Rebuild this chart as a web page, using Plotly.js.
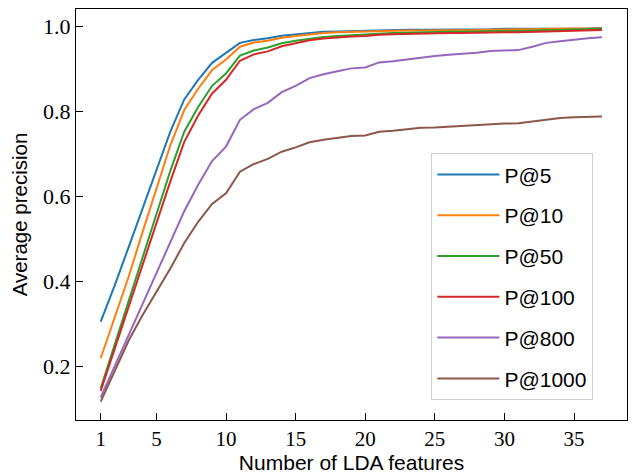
<!DOCTYPE html>
<html>
<head>
<meta charset="utf-8">
<script src="https://cdn.plot.ly/plotly-3.0.1.min.js"></script>
<style>html,body{margin:0;padding:0;background:#fff;}#chart{width:634px;height:474px;}</style>
</head>
<body>
<div id="chart"></div>
<script>
const features = [1,2,3,4,5,6,7,8,9,10,11,12,13,14,15,16,17,18,19,20,21,22,23,24,25,26,27,28,29,30,31,32,33,34,35,36,37];
const seriesNames = ["P@5","P@10","P@50","P@100","P@800","P@1000"];
const p5 = [0.305,0.39,0.48,0.572,0.664,0.752,0.828,0.874,0.914,0.938,0.961,0.968,0.972,0.978,0.981,0.985,0.987,0.988,0.989,0.99,0.991,0.991,0.992,0.992,0.992,0.993,0.993,0.993,0.993,0.994,0.994,0.994,0.995,0.995,0.995,0.995,0.996];
const p10 = [0.219,0.315,0.41,0.515,0.62,0.72,0.803,0.853,0.897,0.922,0.952,0.962,0.966,0.973,0.977,0.981,0.984,0.986,0.987,0.988,0.989,0.989,0.99,0.99,0.99,0.991,0.991,0.991,0.992,0.992,0.992,0.993,0.994,0.994,0.995,0.995,0.995];
const p50 = [0.148,0.25,0.355,0.458,0.56,0.66,0.752,0.81,0.86,0.889,0.931,0.943,0.95,0.96,0.966,0.971,0.975,0.977,0.979,0.981,0.983,0.984,0.985,0.986,0.986,0.987,0.987,0.988,0.988,0.989,0.989,0.99,0.991,0.992,0.993,0.993,0.994];
const p100 = [0.142,0.24,0.343,0.44,0.537,0.635,0.728,0.79,0.842,0.874,0.919,0.934,0.941,0.953,0.96,0.967,0.971,0.974,0.976,0.977,0.98,0.981,0.982,0.983,0.983,0.984,0.984,0.985,0.985,0.986,0.986,0.987,0.988,0.989,0.99,0.991,0.991];
const p800 = [0.127,0.2,0.272,0.345,0.42,0.495,0.565,0.627,0.683,0.717,0.78,0.805,0.82,0.845,0.86,0.878,0.887,0.894,0.901,0.903,0.915,0.918,0.922,0.927,0.93,0.933,0.935,0.938,0.942,0.943,0.944,0.952,0.961,0.965,0.969,0.972,0.974];
const p1000 = [0.117,0.19,0.26,0.32,0.375,0.43,0.49,0.54,0.582,0.607,0.658,0.676,0.688,0.705,0.715,0.727,0.733,0.737,0.742,0.743,0.752,0.754,0.757,0.761,0.762,0.764,0.766,0.767,0.769,0.771,0.772,0.776,0.781,0.784,0.786,0.787,0.788];
const xTicks = [1,5,10,15,20,25,30,35];
const yTicks = [0.2,0.4,0.6,0.8,1.0];
const yTickLabels = ["0.2","0.4","0.6","0.8","1.0"];

const colors = ["#1f77b4","#ff7f0e","#2ca02c","#d62728","#9467bd","#8c564b"];
const allSeries = [p5,p10,p50,p100,p800,p1000];
const traces = allSeries.map((vals,i)=>({
  x: features, y: vals, type: "scatter", mode: "lines",
  name: seriesNames[i], legendgroup: "g"+i,
  line: {color: colors[i], width: 2}
}));

const serif = "Liberation Serif, Times New Roman, serif";
const sans = "Liberation Sans, Arial, sans-serif";
const layout = {
  width: 634, height: 474,
  margin: {l: 76, r: 7, t: 9, b: 54, pad: 0},
  paper_bgcolor: "#fff", plot_bgcolor: "#fff",
  showlegend: true,
  legend: {
    x: 0.645, y: 0.649, xanchor: "left", yanchor: "top",
    bgcolor: "rgba(255,255,255,0.8)", bordercolor: "#d0d0d0", borderwidth: 1,
    font: {family: sans, size: 21, color: "#000"},
    tracegroupgap: 10.5, itemwidth: 62
  },
  xaxis: {
    range: [-0.775, 38.8], tickvals: xTicks, ticktext: xTicks.map(String),
    ticks: "inside", ticklen: 7, tickwidth: 1, tickcolor: "#000",
    showline: true, linecolor: "#000", linewidth: 1, mirror: true,
    showgrid: false, zeroline: false,
    tickfont: {family: serif, size: 21, color: "#000"},
    title: {text: "Number of LDA features", font: {family: sans, size: 21, color: "#000"}, standoff: 6}
  },
  yaxis: {
    range: [0.0736, 1.0407], tickvals: yTicks, ticktext: yTickLabels,
    ticks: "inside", ticklen: 7, tickwidth: 1, tickcolor: "#000",
    showline: true, linecolor: "#000", linewidth: 1, mirror: true,
    showgrid: false, zeroline: false,
    tickfont: {family: serif, size: 22, color: "#000"},
    title: {text: "Average precision", font: {family: sans, size: 20.5, color: "#000"}, standoff: 9}
  }
};
Plotly.newPlot("chart", traces, layout, {displayModeBar: false, staticPlot: true});
</script>
</body>
</html>
